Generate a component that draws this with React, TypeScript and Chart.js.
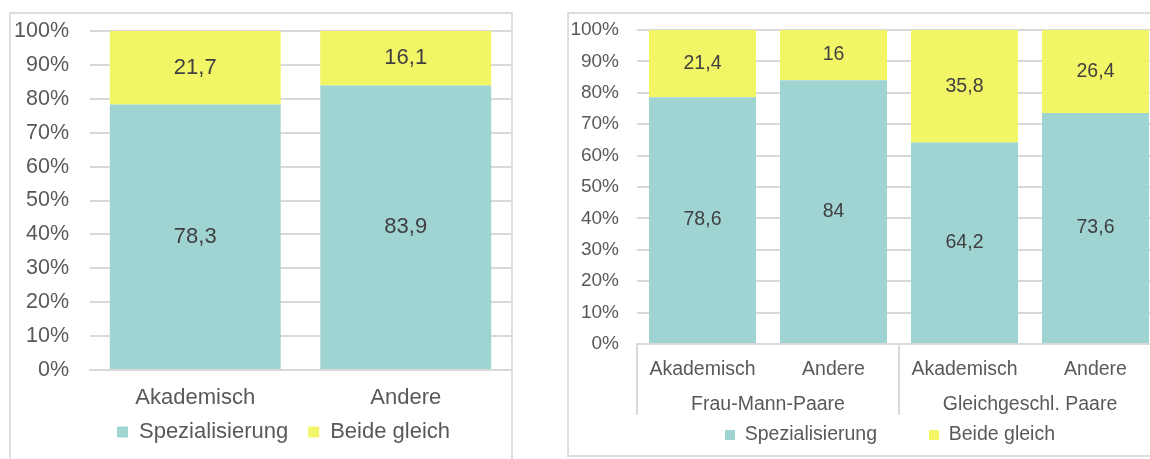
import React, { useEffect, useRef } from 'react';
import { Chart, registerables } from 'chart.js';

Chart.register(...registerables);

const FONT = "'Liberation Sans', Arial, sans-serif";
Chart.defaults.font.family = FONT;
Chart.defaults.color = '#595959';

// ---- data ----
const seriesNames = ['Spezialisierung', 'Beide gleich'];
const seriesColors = ['#9fd4d3', '#f2f566'];

const leftCategories = ['Akademisch', 'Andere'];
const leftSpezialisierung = [78.3, 83.9];
const leftBeideGleich = [21.7, 16.1];

const rightCategories = ['Akademisch', 'Andere', 'Akademisch', 'Andere'];
const rightGroups = ['Frau-Mann-Paare', 'Gleichgeschl. Paare'];
const rightSpezialisierung = [78.6, 84, 64.2, 73.6];
const rightBeideGleich = [21.4, 16, 35.8, 26.4];

const yMin = 0;
const yMax = 100;
const yStep = 10;

const GRID = '#d9d9d9';
const TEXT = '#595959';
const VALUE_TEXT = '#404040';

const valueLabels = {
  id: 'valueLabels',
  afterDatasetsDraw(chart: any, _args: any, opts: any) {
    const ctx = chart.ctx;
    ctx.save();
    ctx.font = `${opts.size}px ${FONT}`;
    ctx.fillStyle = opts.color;
    ctx.textAlign = 'center';
    ctx.textBaseline = 'middle';
    chart.data.datasets.forEach((ds: any, i: number) => {
      const meta = chart.getDatasetMeta(i);
      meta.data.forEach((el: any, j: number) => {
        const { x, y, base } = el.getProps(['x', 'y', 'base'], true);
        const v = ds.data[j];
        ctx.fillText(String(v).replace('.', ','), x, (y + base) / 2);
      });
    });
    ctx.restore();
  },
};

const nudgeLegend = {
  id: 'nudgeLegend',
  afterLayout(chart: any, _args: any, opts: any) {
    const lg = chart.legend;
    if (!lg) return;
    const dx = opts.dx || 0;
    const dy = opts.dy || 0;
    lg.left += dx;
    lg.right += dx;
    lg.top += dy;
    lg.bottom += dy;
  },
};

function makeDatasets(a: number[], b: number[], barPct: number) {
  return [
    {
      label: seriesNames[0],
      data: a,
      backgroundColor: seriesColors[0],
      borderWidth: 0,
      barPercentage: barPct,
      categoryPercentage: 1,
    },
    {
      label: seriesNames[1],
      data: b,
      backgroundColor: seriesColors[1],
      borderWidth: 0,
      barPercentage: barPct,
      categoryPercentage: 1,
    },
  ];
}

function yScale(size: number, width: number, pad: number) {
  return {
    stacked: true,
    min: yMin,
    max: yMax,
    ticks: {
      stepSize: yStep,
      padding: pad,
      font: { size },
      color: TEXT,
      callback: (v: any) => v + '%',
    },
    grid: { color: GRID, lineWidth: 2, drawTicks: false },
    border: { display: false },
    afterFit: (s: any) => {
      s.width = width;
      s.paddingTop = 0;
      s.paddingBottom = 0;
    },
  };
}

function leftConfig(): any {
  return {
    type: 'bar',
    data: {
      labels: leftCategories,
      datasets: makeDatasets(leftSpezialisierung, leftBeideGleich, 0.812),
    },
    plugins: [valueLabels, nudgeLegend],
    options: {
      responsive: true,
      maintainAspectRatio: false,
      animation: false,
      events: [],
      layout: { padding: { top: 19, left: 0, right: 2, bottom: 13.6 } },
      scales: {
        x: {
          stacked: true,
          offset: true,
          grid: { display: false, drawTicks: false },
          border: { display: true, color: GRID, width: 2 },
          ticks: { font: { size: 22 }, padding: 15, color: TEXT },
        },
        y: yScale(21.5, 81, 21),
      },
      plugins: {
        tooltip: { enabled: false },
        legend: {
          position: 'bottom',
          fullSize: false,
          labels: {
            boxWidth: 11,
            boxHeight: 11,
            padding: 20,
            font: { size: 22 },
            color: TEXT,
          },
        },
        valueLabels: { size: 22, color: VALUE_TEXT },
        nudgeLegend: { dx: -17, dy: -25.4 },
      },
    },
  };
}

function rightConfig(): any {
  return {
    type: 'bar',
    data: {
      labels: rightCategories,
      datasets: makeDatasets(rightSpezialisierung, rightBeideGleich, 0.817),
    },
    plugins: [valueLabels, nudgeLegend],
    options: {
      responsive: true,
      maintainAspectRatio: false,
      animation: false,
      events: [],
      layout: { padding: { top: 18, left: 0, right: 10, bottom: 9.5 } },
      scales: {
        x: {
          stacked: true,
          offset: true,
          weight: 0,
          grid: {
            display: true,
            drawOnChartArea: false,
            drawTicks: true,
            tickLength: 71,
            lineWidth: 2,
            color: (c: any) => (c.index % 2 === 0 ? GRID : 'rgba(0,0,0,0)'),
          },
          border: { display: true, color: GRID, width: 2 },
          ticks: { font: { size: 19.5 }, padding: -57, color: TEXT },
          afterFit: (s: any) => {
            s.height = 36;
          },
        },
        x2: {
          type: 'category',
          labels: rightGroups,
          position: 'bottom',
          offset: true,
          weight: 1,
          grid: { display: false, drawTicks: false },
          border: { display: false },
          ticks: { font: { size: 19.5 }, padding: 13, color: TEXT },
          afterFit: (s: any) => {
            s.height = 36;
          },
        },
        y: yScale(19, 70, 18),
      },
      plugins: {
        tooltip: { enabled: false },
        legend: {
          position: 'bottom',
          fullSize: false,
          labels: {
            boxWidth: 10,
            boxHeight: 10,
            padding: 52,
            font: { size: 19.5 },
            color: TEXT,
          },
        },
        valueLabels: { size: 19.5, color: VALUE_TEXT },
        nudgeLegend: { dx: -9, dy: -42.75 },
      },
    },
  };
}

function ChartBox({ config, style }: { config: () => any; style: React.CSSProperties }) {
  const ref = useRef<HTMLCanvasElement | null>(null);
  useEffect(() => {
    if (!ref.current) return;
    const chart = new Chart(ref.current, config());
    return () => chart.destroy();
  }, [config]);
  return (
    <div style={{ position: 'absolute', ...style }}>
      <canvas ref={ref} />
    </div>
  );
}

export default function App() {
  return (
    <div
      style={{
        position: 'fixed',
        left: 0,
        top: 0,
        width: 1150,
        height: 459,
        overflow: 'hidden',
        background: '#ffffff',
      }}
    >
      <div
        style={{
          position: 'absolute',
          left: 9,
          top: 12,
          width: 504,
          height: 490,
          border: '2px solid #dedede',
          boxSizing: 'border-box',
        }}
      />
      <div
        style={{
          position: 'absolute',
          left: 567,
          top: 12,
          width: 620,
          height: 445,
          border: '2px solid #dedede',
          boxSizing: 'border-box',
        }}
      />
      <ChartBox config={leftConfig} style={{ left: 9, top: 12, width: 504, height: 480 }} />
      <ChartBox config={rightConfig} style={{ left: 567, top: 12, width: 604, height: 495 }} />
    </div>
  );
}
